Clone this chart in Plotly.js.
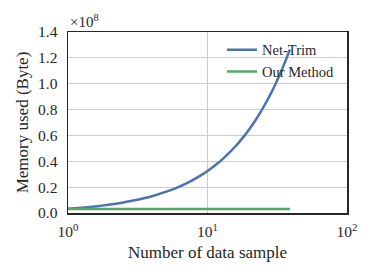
<!DOCTYPE html>
<html>
<head>
<meta charset="utf-8">
<script src="https://cdn.plot.ly/plotly-3.0.1.min.js"></script>
<style>html,body{margin:0;padding:0;background:#fff;}#chart{width:374px;height:277px;}</style>
</head>
<body>
<div id="chart"></div>
<script>
var samples = [1,1.25,1.5,1.75,2,2.5,3,3.5,4,5,6,7,8,9,10,11,12,13,14,16,18,20,22,24,26,28,30,32,34,36,39];
var netTrim = [3.3e6,4.1e6,4.9e6,5.7e6,6.5e6,8.1e6,9.8e6,11.4e6,13.0e6,16.3e6,19.5e6,22.8e6,26.0e6,29.3e6,32.5e6,35.8e6,39.0e6,42.3e6,45.5e6,52.0e6,58.5e6,65.0e6,71.5e6,78.0e6,84.5e6,91.0e6,97.5e6,104.0e6,110.5e6,117.0e6,126.5e6];
var ourMethod = [3.1e6,3.1e6,3.1e6,3.1e6,3.1e6,3.1e6,3.1e6,3.1e6,3.1e6,3.1e6,3.1e6,3.1e6,3.1e6,3.1e6,3.1e6,3.1e6,3.1e6,3.1e6,3.1e6,3.1e6,3.1e6,3.1e6,3.1e6,3.1e6,3.1e6,3.1e6,3.1e6,3.1e6,3.1e6,3.1e6,3.1e6];
var xTickVals = [1,10,100];
var xTickText = ['10<sup>0</sup>','10<sup>1</sup>','10<sup>2</sup>'];
var yTickVals = [0,0.2e8,0.4e8,0.6e8,0.8e8,1.0e8,1.2e8,1.4e8];
var yTickText = ['0.0','0.2','0.4','0.6','0.8','1.0','1.2','1.4'];

var font = 'Liberation Serif, Times New Roman, serif';
var traces = [
  {x: samples, y: netTrim, type: 'scatter', mode: 'lines', name: 'Net-Trim',
   line: {color: '#4c72b0', width: 2.5, shape: 'spline', smoothing: 0.6}},
  {x: samples, y: ourMethod, type: 'scatter', mode: 'lines', name: 'Our Method',
   line: {color: '#55a868', width: 2.5}}
];
var layout = {
  width: 374, height: 277,
  margin: {l: 68, r: 27, t: 32, b: 64},
  paper_bgcolor: '#fff', plot_bgcolor: '#fff',
  font: {family: font, size: 15.5, color: '#262626'},
  showlegend: true,
  legend: {x: 0.975, y: 0.99, xanchor: 'right', yanchor: 'top', bgcolor: 'rgba(0,0,0,0)',
           font: {family: font, size: 14.5, color: '#262626'}, tracegroupgap: 0, itemwidth: 30},
  xaxis: {type: 'log', range: [0, 2], tickvals: xTickVals, ticktext: xTickText,
          showgrid: true, gridcolor: '#cccccc', gridwidth: 1, zeroline: false,
          showline: true, linecolor: '#262626', linewidth: 1.5, mirror: true,
          ticks: '', ticklabelstandoff: 4,
          tickfont: {family: font, size: 15.5, color: '#262626'},
          title: {text: 'Number of data sample', font: {family: font, size: 17, color: '#262626'}, standoff: 7}},
  yaxis: {range: [0, 1.4e8], tickvals: yTickVals, ticktext: yTickText,
          showgrid: true, gridcolor: '#cccccc', gridwidth: 1, zeroline: false,
          showline: true, linecolor: '#262626', linewidth: 1.5, mirror: true,
          ticks: '', ticklabelstandoff: 6,
          tickfont: {family: font, size: 15.5, color: '#262626'},
          title: {text: 'Memory used (Byte)', font: {family: font, size: 17, color: '#262626'}, standoff: 5}},
  annotations: [{xref: 'paper', yref: 'paper', x: 0, y: 1, xanchor: 'left', yanchor: 'bottom',
                 text: '×10<sup>8</sup>', showarrow: false, yshift: 0,
                 font: {family: font, size: 15, color: '#262626'}}]
};
Plotly.newPlot('chart', traces, layout, {staticPlot: true, displayModeBar: false});
</script>
</body>
</html>
